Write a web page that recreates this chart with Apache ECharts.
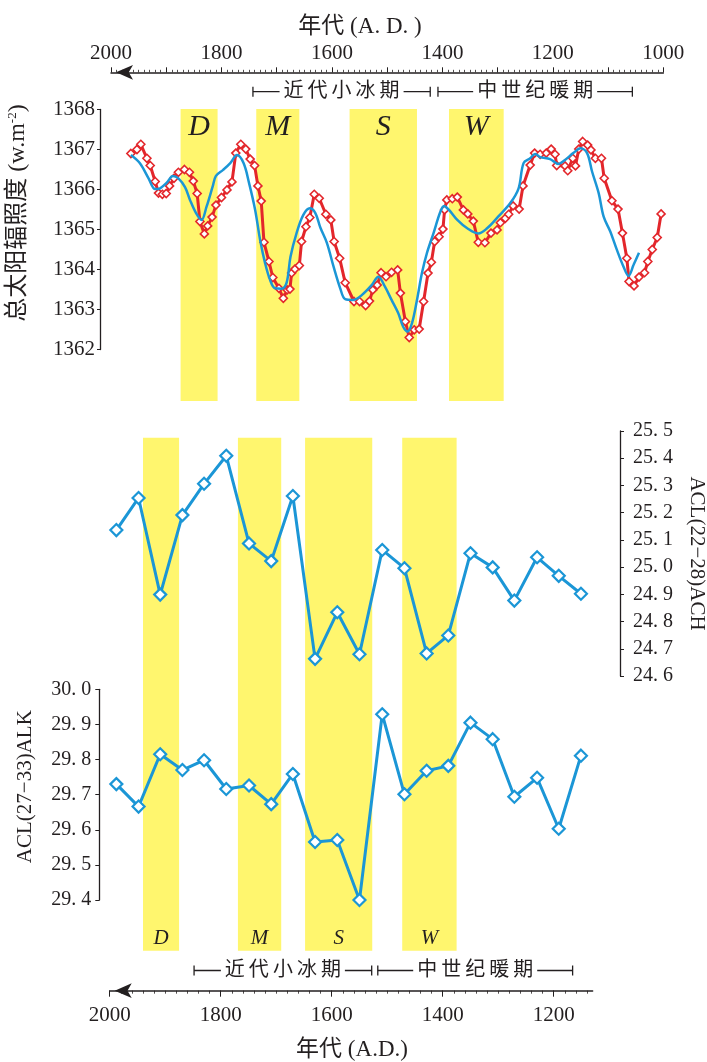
<!DOCTYPE html>
<html><head><meta charset="utf-8">
<script src="https://cdn.jsdelivr.net/npm/echarts@6/dist/echarts.min.js"></script>
<style>html,body{margin:0;padding:0;background:#fff}#c{width:707px;height:1062px}</style>
</head><body><div id="c"></div>
<script>
// ---------- DATA ----------
const tsiRedYears = [1964,1953,1946,1935,1929,1920,1914,1907,1900,1894,1886,1878,1867,1858,1851,1844,1839,1831,1825,1817,1810,1800,1790,1781,1774,1765,1756,1748,1740,1734,1728,1723,1714,1707,1696,1688,1681,1676,1673,1667,1659,1655,1647,1640,1632,1623,1611,1602,1596,1586,1576,1560,1550,1539,1532,1526,1518,1511,1502,1492,1481,1476,1467,1460,1451,1442,1434,1426,1420,1414,1406,1399,1396,1392,1382,1373,1362,1354,1344,1335,1323,1312,1301,1295,1286,1280,1272,1261,1254,1241,1233,1223,1212,1203,1196,1193,1178,1173,1164,1159,1153,1146,1137,1131,1123,1112,1107,1093,1082,1074,1066,1062,1053,1044,1034,1028,1020,1011,1004];
const tsiRedValues = [1366.90,1367.00,1367.13,1366.78,1366.60,1366.20,1365.91,1365.88,1365.90,1366.09,1366.28,1366.43,1366.50,1366.43,1366.21,1365.90,1365.20,1364.89,1365.09,1365.31,1365.61,1365.80,1365.99,1366.19,1366.91,1367.13,1367.01,1366.76,1366.60,1366.09,1365.71,1364.68,1364.20,1363.80,1363.53,1363.28,1363.49,1363.51,1363.91,1364.01,1364.10,1364.70,1365.07,1365.30,1365.88,1365.78,1365.38,1365.24,1364.70,1364.28,1363.67,1363.20,1363.20,1363.10,1363.21,1363.49,1363.61,1363.92,1363.82,1363.93,1363.99,1363.41,1362.70,1362.30,1362.49,1362.51,1363.20,1363.91,1364.18,1364.70,1364.82,1365.01,1365.49,1365.74,1365.77,1365.81,1365.49,1365.39,1365.21,1364.68,1364.67,1364.91,1364.99,1365.17,1365.28,1365.38,1365.59,1365.51,1366.09,1366.61,1366.91,1366.88,1366.91,1367.01,1366.88,1366.60,1366.59,1366.47,1366.78,1366.59,1367.01,1367.20,1367.11,1366.99,1366.78,1366.78,1366.28,1365.72,1365.51,1364.91,1364.28,1363.70,1363.59,1363.81,1363.92,1364.20,1364.50,1364.80,1365.39];
const tsiBlueYears = [1964,1948,1932,1920,1911,1899,1888,1878,1866,1857,1846,1836,1827,1816,1810,1797,1784,1772,1760,1750,1739,1730,1721,1712,1703,1691,1682,1675,1664,1652,1640,1630,1621,1609,1597,1585,1576,1561,1546,1528,1516,1504,1492,1480,1471,1463,1455,1446,1437,1428,1416,1404,1397,1388,1373,1355,1335,1319,1299,1277,1262,1253,1241,1232,1223,1205,1190,1178,1163,1150,1138,1129,1117,1108,1096,1084,1072,1063,1054,1044];
const tsiBlueValues = [1366.86,1366.66,1366.28,1366.01,1366.03,1366.17,1366.34,1366.28,1366.06,1365.74,1365.41,1365.24,1365.57,1366.07,1366.34,1366.49,1366.66,1366.86,1366.66,1366.16,1365.49,1364.74,1364.16,1363.74,1363.53,1363.52,1363.67,1364.32,1364.91,1365.36,1365.53,1365.41,1365.05,1364.66,1364.07,1363.53,1363.26,1363.24,1363.36,1363.61,1363.82,1363.57,1363.24,1362.91,1362.57,1362.45,1362.66,1363.24,1363.91,1364.41,1364.91,1365.43,1365.59,1365.49,1365.24,1365.03,1364.90,1365.03,1365.32,1365.66,1366.03,1366.66,1366.78,1366.89,1366.81,1366.76,1366.64,1366.74,1366.91,1367.03,1366.91,1366.45,1365.91,1365.32,1364.95,1364.49,1364.07,1363.84,1364.11,1364.42];

const aclYears = [1988,1948,1909,1869,1830,1790,1749,1709,1670,1630,1590,1550,1509,1469,1429,1390,1350,1310,1271,1230,1191,1151];
const aclACH = [25.136,25.254,24.899,25.191,25.306,25.409,25.087,25.022,25.261,24.663,24.834,24.680,25.063,24.996,24.683,24.749,25.051,24.999,24.877,25.036,24.968,24.902];
const aclALK = [29.730,29.666,29.815,29.770,29.798,29.716,29.726,29.673,29.759,29.565,29.571,29.400,29.929,29.701,29.768,29.782,29.905,29.858,29.694,29.748,29.603,29.811];

const topBands = [['D',1874,1807],['M',1737,1659],['S',1568,1446],['W',1388,1289]];
const bottomBands = [['D',1940,1875],['M',1769,1691],['S',1648,1527],['W',1473,1375]];
const topPeriods = [['近代小冰期',1743,1422],['中世纪暖期',1408,1056]];
const bottomPeriods = [['近代小冰期',1848,1528],['中世纪暖期',1517,1166]];

const topTickLabels = [2000,1800,1600,1400,1200,1000];
const bottomTickLabels = [2000,1800,1600,1400,1200];

// ---------- STYLE ----------
const SERIF = "'Liberation Serif','Times New Roman','Noto Sans CJK SC',serif";
const INK = '#231f20';
const RED = '#e3262b';
const BLUE = '#1b96d6';
const YEL = '#fff66e';

function range(a, b, step){ const r=[]; for(let v=a; v<=b+1e-9; v+=step) r.push(Math.round(v)); return r; }
const topMajor = range(1000, 2000, 100);
const topMinor = range(1000, 2000, 10);
const botMajor = range(1200, 2000, 200);
const botMinor = range(1140, 2000, 20);

const chart = echarts.init(document.getElementById('c'), null, {renderer:'canvas'});

function bandRender(bands, yMin, topOff, botOff, labelOff, fontSize){
  return function(params, api){
    const cs = params.coordSys;
    const x0 = api.coord([api.value(0), yMin])[0];
    const x1 = api.coord([api.value(1), yMin])[0];
    const l = Math.min(x0,x1), w = Math.abs(x1-x0);
    const top = cs.y + topOff;
    const bot = cs.y + cs.height + botOff;
    return {type:'group', children:[
      {type:'rect', shape:{x:l, y:top, width:w, height:bot-top}, style:{fill:YEL}},
      {type:'text', style:{text:bands[params.dataIndex][0], x:l+w/2, y:cs.y+labelOff, align:'center', verticalAlign:'middle',
        font:'italic '+fontSize+'px '+SERIF, fill:INK}}
    ]};
  };
}
function bracketRender(periods, yMin, fromBottom, off, fontSize){
  return function(params, api){
    const cs = params.coordSys;
    const xa = api.coord([api.value(0), yMin])[0];
    const xb = api.coord([api.value(1), yMin])[0];
    const y = fromBottom ? cs.y + cs.height + off : cs.y + off;
    const ls = {stroke:INK, lineWidth:1.3};
    return {type:'group', children:[
      {type:'line', shape:{x1:xa, y1:y, x2:xb, y2:y}, style:ls},
      {type:'line', shape:{x1:xa, y1:y-5, x2:xa, y2:y+5}, style:ls},
      {type:'line', shape:{x1:xb, y1:y-5, x2:xb, y2:y+5}, style:ls},
      {type:'text', style:{text:periods[params.dataIndex][0].split('').join('\u2009'), x:(xa+xb)/2, y:y,
        align:'center', verticalAlign:'middle', font:fontSize+'px '+SERIF, fill:INK,
        backgroundColor:'#fff', padding:[0,4]}}
    ]};
  };
}
const fmt1 = v => (Math.round(v*10)/10).toFixed(1).replace('.', '. ');
const fmtYear = v => String(Math.round(v));
const labelStyle = {fontFamily:SERIF, fontSize:21, color:INK};

const option = {
  animation:false,
  backgroundColor:'#fff',
  grid:[
    {left:111, top:109.5, width:552.3, height:240, outerBoundsMode:'none', containLabel:false},
    {left:109.7, top:431, width:482.9, height:245, outerBoundsMode:'none', containLabel:false},
    {left:109.7, top:689.3, width:482.9, height:210.7, outerBoundsMode:'none', containLabel:false}
  ],
  xAxis:[
    {gridIndex:0, type:'value', min:1000, max:2000, inverse:true, position:'top', offset:37.2,
     axisLine:{show:true, symbol:['arrow','none'], symbolSize:[11,17], symbolOffset:[5,0], lineStyle:{color:INK, width:1.5}},
     axisTick:{show:true, customValues:topMajor, length:5, lineStyle:{color:INK, width:1}},
     axisLabel:{show:true, customValues:topTickLabels, margin:8, ...labelStyle, formatter:fmtYear},
     splitLine:{show:false}},
    {gridIndex:0, type:'value', min:1000, max:2000, inverse:true, position:'top', offset:37.2,
     axisLine:{show:false}, axisTick:{show:true, customValues:topMinor, length:2.5, lineStyle:{color:INK, width:0.8}},
     axisLabel:{show:false}, splitLine:{show:false}},
    {gridIndex:1, type:'value', min:1130, max:2000, inverse:true,
     axisLine:{show:false}, axisTick:{show:false}, axisLabel:{show:false}, splitLine:{show:false}},
    {gridIndex:2, type:'value', min:1130, max:2000, inverse:true, position:'bottom', offset:90.7,
     axisLine:{show:true, symbol:['arrow','none'], symbolSize:[11,17], symbolOffset:[5,0], lineStyle:{color:INK, width:1.5}},
     axisTick:{show:true, customValues:botMajor, length:6, lineStyle:{color:INK, width:1}},
     axisLabel:{show:true, customValues:bottomTickLabels, margin:14, ...labelStyle, formatter:fmtYear},
     splitLine:{show:false}},
    {gridIndex:2, type:'value', min:1130, max:2000, inverse:true, position:'bottom', offset:90.7,
     axisLine:{show:false}, axisTick:{show:true, customValues:botMinor, length:3, lineStyle:{color:INK, width:0.8}},
     axisLabel:{show:false}, splitLine:{show:false}}
  ],
  yAxis:[
    {gridIndex:0, type:'value', min:1362, max:1368, interval:1, position:'left', offset:11,
     axisLine:{show:true, lineStyle:{color:INK, width:1.3}},
     axisTick:{show:true, length:3, lineStyle:{color:INK}},
     axisLabel:{show:true, margin:5, ...labelStyle, formatter:fmtYear},
     splitLine:{show:false}},
    {gridIndex:1, type:'value', min:24.6, max:25.5, interval:0.1, position:'right', offset:27.4,
     name:'ACL(22\u221228)ACH', nameLocation:'middle', nameRotate:-90, nameGap:66,
     nameTextStyle:{fontFamily:SERIF, fontSize:21, color:INK},
     axisLine:{show:true, lineStyle:{color:INK, width:1.3}},
     axisTick:{show:true, length:4, lineStyle:{color:INK}},
     axisLabel:{show:true, margin:13, ...labelStyle, fontSize:20, formatter:fmt1},
     splitLine:{show:false}},
    {gridIndex:2, type:'value', min:29.4, max:30.0, interval:0.1, position:'left', offset:10.4,
     name:'ACL(27\u221233)ALK', nameLocation:'middle', nameGap:63,
     nameTextStyle:{fontFamily:SERIF, fontSize:21, color:INK, padding:[0,0,0,16]},
     axisLine:{show:true, lineStyle:{color:INK, width:1.3}},
     axisTick:{show:true, length:4, lineStyle:{color:INK}},
     axisLabel:{show:true, margin:8, ...labelStyle, fontSize:20, formatter:fmt1},
     splitLine:{show:false}}
  ],
  graphic:[
    {type:'text', x:360, y:27, style:{text:'年代 (A. D. )', font:'23px '+SERIF, fill:INK, align:'center', verticalAlign:'middle'}},
    {type:'text', x:352, y:1050, style:{text:'年代 (A.D.)', font:'23px '+SERIF, fill:INK, align:'center', verticalAlign:'middle'}},
    {type:'text', x:18, y:213, rotation:Math.PI/2,
     style:{text:'总太阳辐照度 (w.m{sup|-2})', font:'24px '+SERIF, fill:INK, align:'center', verticalAlign:'middle',
       rich:{sup:{fontSize:13, fontFamily:SERIF, fill:INK, verticalAlign:'top', padding:[0,0,8,0]}}}}
  ],
  series:[
    {type:'custom', name:'topBands', xAxisIndex:0, yAxisIndex:0, z:1, clip:false, silent:true,
     data:topBands.map(b=>[b[1], b[2]]), encode:{x:[0,1]},
     renderItem:bandRender(topBands, 1362, -0.5, 51.5, 17.5, 30)},
    {type:'custom', name:'bottomBands', xAxisIndex:2, yAxisIndex:1, z:1, clip:false, silent:true,
     data:bottomBands.map(b=>[b[1], b[2]]), encode:{x:[0,1]},
     renderItem:bandRender(bottomBands, 24.6, 6.7, 274.7, 507.7, 21)},
    {type:'line', name:'TSI', xAxisIndex:0, yAxisIndex:0, z:3,
     data:tsiRedYears.map((y,i)=>[y, tsiRedValues[i]]),
     symbol:'diamond', symbolSize:8, showSymbol:true,
     lineStyle:{color:RED, width:3}, itemStyle:{color:'#fff', borderColor:RED, borderWidth:1.6}},
    {type:'line', name:'TSI2', xAxisIndex:0, yAxisIndex:0, z:4, smooth:0.35,
     data:tsiBlueYears.map((y,i)=>[y, tsiBlueValues[i]]),
     showSymbol:false, symbol:'none', lineStyle:{color:BLUE, width:2.5}},
    {type:'line', name:'ACH', xAxisIndex:2, yAxisIndex:1, z:3,
     data:aclYears.map((y,i)=>[y, aclACH[i]]),
     symbol:'diamond', symbolSize:12, showSymbol:true,
     lineStyle:{color:BLUE, width:3}, itemStyle:{color:'#fff', borderColor:BLUE, borderWidth:2.2}},
    {type:'line', name:'ALK', xAxisIndex:3, yAxisIndex:2, z:3, clip:false,
     data:aclYears.map((y,i)=>[y, aclALK[i]]),
     symbol:'diamond', symbolSize:12, showSymbol:true,
     lineStyle:{color:BLUE, width:3}, itemStyle:{color:'#fff', borderColor:BLUE, borderWidth:2.2}},
    {type:'custom', name:'topPeriods', xAxisIndex:0, yAxisIndex:0, z:2, clip:false, silent:true,
     data:topPeriods.map(p=>[p[1], p[2]]), encode:{x:[0,1]},
     renderItem:bracketRender(topPeriods, 1362, false, -17.8, 20)},
    {type:'custom', name:'bottomPeriods', xAxisIndex:3, yAxisIndex:2, z:2, clip:false, silent:true,
     data:bottomPeriods.map(p=>[p[1], p[2]]), encode:{x:[0,1]},
     renderItem:bracketRender(bottomPeriods, 29.4, true, 70.5, 20)}
  ]
};
chart.setOption(option);
</script></body></html>
